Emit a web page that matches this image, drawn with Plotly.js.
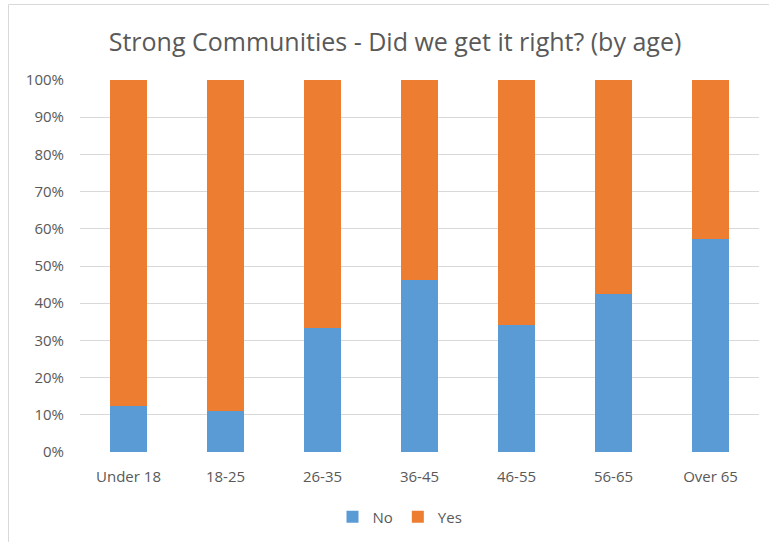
<!DOCTYPE html>
<html>
<head>
<meta charset="utf-8">
<script src="https://cdn.plot.ly/plotly-3.0.1.min.js"></script>
<style>html,body{margin:0;padding:0;background:#fff}#chart{width:769px;height:542px}</style>
</head>
<body>
<div id="chart"></div>
<script>
var categories = ["Under 18", "18-25", "26-35", "36-45", "46-55", "56-65", "Over 65"];
var noValues = [12.4, 10.9, 33.4, 46.2, 34.1, 42.4, 57.2];
var yesValues = noValues.map(function(v){ return +(100 - v).toFixed(1); });
var yTickVals = [0, 10, 20, 30, 40, 50, 60, 70, 80, 90, 100];
var yTickText = ["0%", "10%", "20%", "30%", "40%", "50%", "60%", "70%", "80%", "90%", "100%"];

var textColor = "#595959";
var fontFam = "'Open Sans', 'Noto Sans', sans-serif";

var traces = [
  {type: "bar", name: "No", x: categories, y: noValues, marker: {color: "#5B9BD5"}, hoverinfo: "x+y+name"},
  {type: "bar", name: "Yes", x: categories, y: yesValues, marker: {color: "#ED7D31"}, hoverinfo: "x+y+name"}
];

var layout = {
  width: 769, height: 542,
  barmode: "stack",
  bargap: 0.61,
  paper_bgcolor: "#ffffff", plot_bgcolor: "#ffffff",
  margin: {l: 80, r: 10, t: 80, b: 90},
  font: {family: fontFam, color: textColor, size: 15},
  title: {text: "Strong Communities - Did we get it right? (by age)", x: 395/769, xanchor: "center", xref: "container", y: 1 - 42/542, yanchor: "middle", yref: "container", font: {size: 25, color: textColor, family: fontFam}},
  xaxis: {type: "category", showgrid: false, zeroline: false, showline: false, ticks: "", ticklabelstandoff: 14, tickfont: {size: 15, color: textColor}, automargin: false},
  yaxis: {range: [0, 100], tickvals: yTickVals, ticktext: yTickText, showgrid: true, gridcolor: "#D9D9D9", gridwidth: 1, zeroline: false, showline: false, ticks: "", ticklabelstandoff: 15, tickfont: {size: 15, color: textColor}, automargin: false, fixedrange: true},
  legend: {orientation: "h", traceorder: "normal", x: 400/769, xref: "container", xanchor: "center", y: 1 - 517/542, yref: "container", yanchor: "middle", font: {size: 15, color: textColor}, itemwidth: 30, tracegroupgap: 0},
  shapes: [
    {type: "rect", xref: "paper", yref: "paper", x0: (8.5-80)/679, x1: (800-80)/679, y0: (452-560)/372, y1: (452-4.5)/372, line: {color: "#D9D9D9", width: 1}, fillcolor: "rgba(0,0,0,0)", layer: "below"}
  ],
  showlegend: true
};

Plotly.newPlot("chart", traces, layout, {displayModeBar: false, staticPlot: true});
</script>
</body>
</html>
